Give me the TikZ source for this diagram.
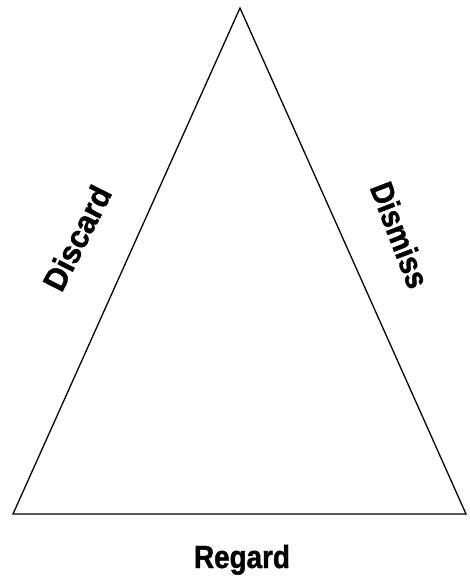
\documentclass[tikz,border=0pt]{standalone}
\usepackage{fontspec}
\setmainfont{Liberation Sans}
\newfontfamily\discardfont[FakeStretch=0.96,FakeBold=1.3]{Liberation Sans}
\newfontfamily\dismissfont[FakeStretch=0.90,FakeBold=1.3]{Liberation Sans}
\newfontfamily\regardfont[FakeStretch=0.87,FakeBold=1.3]{Liberation Sans}
\begin{document}
\begin{tikzpicture}[x=1pt,y=1pt,
  lbl/.style={font=\bfseries\fontsize{32}{36}\selectfont, inner sep=0pt, text=black},
  edge/.style={draw=black, line width=1.3pt, line join=miter}]
\useasboundingbox (0,0) rectangle (470,584);
\coordinate (top) at (240,576);
\coordinate (bl) at (13,70);
\coordinate (br) at (466,70);
\draw[edge] (top) -- (br) -- (bl) -- cycle;
\node[lbl, rotate=63] (discard) at (77,346) {\discardfont\bfseries Discard};
\node[lbl, rotate=-69] (dismiss) at (400,349) {\dismissfont\bfseries Dismiss};
\node[lbl, anchor=base] (regard) at (242,16) {\regardfont\bfseries Regard};
\end{tikzpicture}
\end{document}
